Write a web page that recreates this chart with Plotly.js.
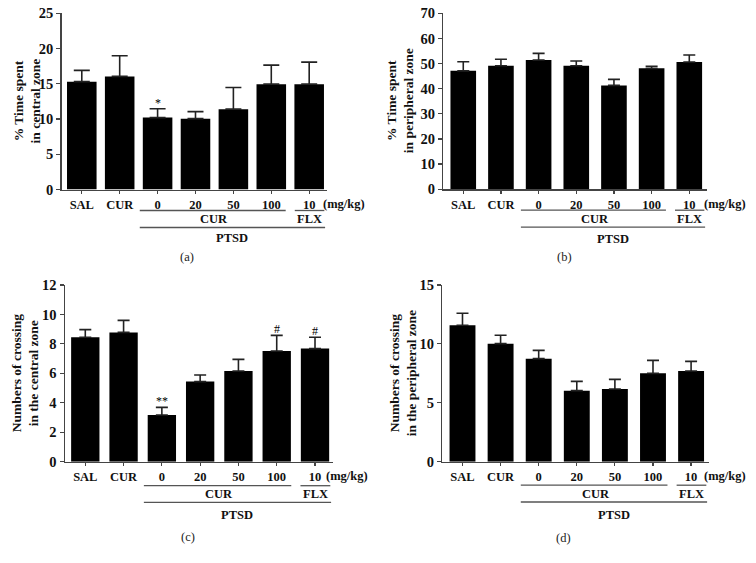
<!DOCTYPE html>
<html>
<head>
<meta charset="utf-8">
<script src="https://cdn.plot.ly/plotly-3.0.1.min.js"></script>
<style>html,body{margin:0;padding:0;background:#fff;}#chart{width:756px;height:563px;}</style>
</head>
<body>
<div id="chart"></div>
<script>
// ---- data ----
const categories = ['SAL', 'CUR', '0', '20', '50', '100', '10'];
const timeCentral = [15.3, 16.05, 10.2, 10.05, 11.4, 14.95, 14.95];
const timeCentralErr = [1.6, 2.92, 1.25, 1.0, 3.08, 2.7, 3.12];
const timePeripheral = [47.1, 49.1, 51.4, 49.1, 41.3, 48.1, 50.6];
const timePeripheralErr = [3.6, 2.6, 2.65, 1.9, 2.4, 0.8, 2.8];
const crossCentral = [8.45, 8.78, 3.17, 5.44, 6.16, 7.52, 7.68];
const crossCentralErr = [0.52, 0.82, 0.52, 0.45, 0.79, 1.06, 0.77];
const crossPeripheral = [11.58, 10.02, 8.75, 6.03, 6.17, 7.5, 7.7];
const crossPeripheralErr = [1.02, 0.71, 0.7, 0.79, 0.82, 1.1, 0.82];
const sigA = ['', '', '*', '', '', '', ''];
const sigC = ['', '', '**', '', '', '#', '#'];
const yTitles = ['% Time spent<br>in central zone', '% Time spent<br>in peripheral zone',
                 'Numbers of crossing<br>in the central zone', 'Numbers of crossing<br>in the peripheral zone'];
const panelLabels = ['(a)', '(b)', '(c)', '(d)'];
const yMax = [25, 70, 12, 15];
const yStep = [5, 10, 2, 5];

// ---- layout helpers ----
const W = 756, H = 563;
const FONT = 'Liberation Serif, Times New Roman, serif';
const px = v => v / W;
const py = v => 1 - v / H;

// panel pixel geometry: [left, right, top, bottom]
const geo = [
  [61.7, 327, 13.3, 189.5],
  [443.3, 707, 13.3, 189.2],
  [65, 333, 285, 461.7],
  [442.3, 709, 285, 461.7]
];
const barWidths = [0.78, 0.68, 0.74, 0.68];
const capWidths = [8, 6, 6, 6];
const titleX = [27, 400, 25, 403];
// offsets below axis: [groupLine, groupText, ptsdLine, ptsdText, panelLabel]
const offs = [
  [21, 29.5, 38, 49, 67],
  [21, 29.5, 38, 50, 68],
  [24, 32.5, 40.6, 53, 75],
  [23.5, 32.5, 40.3, 53, 76]
];
const labelX = [187, 564, 188, 563];
const mgX = [344, 725, 347, 725];

const series = [timeCentral, timePeripheral, crossCentral, crossPeripheral];
const errs = [timeCentralErr, timePeripheralErr, crossCentralErr, crossPeripheralErr];
const sigs = [sigA, null, sigC, null];

const data = [];
const layout = {
  width: W, height: H,
  margin: {l: 0, r: 0, t: 0, b: 0},
  paper_bgcolor: '#fff', plot_bgcolor: '#fff',
  showlegend: false,
  font: {family: FONT, color: '#111'},
  annotations: [], shapes: []
};

for (let i = 0; i < 4; i++) {
  const s = i === 0 ? '' : String(i + 1);
  const [L, R, T, B] = geo[i];
  data.push({
    type: 'bar', x: categories, y: series[i],
    xaxis: 'x' + s, yaxis: 'y' + s,
    width: barWidths[i],
    marker: {color: '#000', line: {width: 0}},
    error_y: {type: 'data', symmetric: false, array: errs[i],
              arrayminus: errs[i].map(() => 0), color: '#222', thickness: 1.6, width: capWidths[i]},
    hoverinfo: 'none'
  });
  layout['xaxis' + s] = {
    domain: [px(L), px(R)], anchor: 'y' + s, type: 'category',
    range: [-0.53, 6.47],
    showline: true, linecolor: '#444', linewidth: 1.5,
    ticks: 'outside', ticklen: 3, tickcolor: '#444', tickwidth: 1.2,
    showgrid: false, zeroline: false,
    tickfont: {family: FONT, size: 12.5, weight: 'bold', color: '#111'}
  };
  layout['yaxis' + s] = {
    domain: [py(B), py(T)], anchor: 'x' + s,
    range: [0, yMax[i]], dtick: yStep[i], tick0: 0,
    showline: true, linecolor: '#444', linewidth: 1.5,
    ticks: 'outside', ticklen: 4, tickcolor: '#444', tickwidth: 1.2,
    showgrid: false, zeroline: false,
    tickfont: {family: FONT, size: 14.5, weight: 'bold', color: '#111'}
  };
  const xr = 'x' + s;
  const o = offs[i];
  // y title
  layout.annotations.push({
    text: yTitles[i], xref: 'paper', yref: 'paper',
    x: px(titleX[i]), y: py((T + B) / 2), textangle: -90,
    showarrow: false, xanchor: 'center', yanchor: 'middle',
    font: {family: FONT, size: 13.5, weight: 'bold', color: '#111'}
  });
  // group lines
  const lineStyle = {color: '#555', width: 1.3};
  layout.shapes.push({type: 'line', xref: xr, yref: 'paper', x0: 1.53, x1: 5.38, y0: py(B + o[0]), y1: py(B + o[0]), line: lineStyle});
  layout.shapes.push({type: 'line', xref: xr, yref: 'paper', x0: 5.62, x1: 6.4, y0: py(B + o[0]), y1: py(B + o[0]), line: lineStyle});
  layout.shapes.push({type: 'line', xref: xr, yref: 'paper', x0: 1.53, x1: 6.42, y0: py(B + o[2]), y1: py(B + o[2]), line: lineStyle});
  const gfont = {family: FONT, size: 12.5, weight: 'bold', color: '#111'};
  const common = {showarrow: false, xanchor: 'center', yanchor: 'middle', yref: 'paper'};
  layout.annotations.push(Object.assign({text: 'CUR', xref: xr, x: 3.5, y: py(B + o[1]), font: gfont}, common));
  layout.annotations.push(Object.assign({text: 'FLX', xref: xr, x: 6.0, y: py(B + o[1]), font: gfont}, common));
  layout.annotations.push(Object.assign({text: 'PTSD', xref: xr, x: 3.97, y: py(B + o[3]), font: gfont}, common));
  layout.annotations.push(Object.assign({text: '(mg/kg)', xref: 'paper', x: px(mgX[i]), y: py(B + 14.5), font: gfont}, common));
  layout.annotations.push(Object.assign({text: panelLabels[i], xref: 'paper', x: px(labelX[i]), y: py(B + o[4]),
    font: {family: FONT, size: 12.5, color: '#222'}}, common));
  // significance marks
  if (sigs[i]) {
    sigs[i].forEach((t, k) => {
      if (!t) return;
      layout.annotations.push({text: t, xref: xr, yref: 'y' + s, x: k, y: series[i][k] + errs[i][k],
        showarrow: false, xanchor: 'center', yanchor: 'bottom', yshift: -3,
        font: {family: FONT, size: 12, color: '#000'}});
    });
  }
}

Plotly.newPlot('chart', data, layout, {staticPlot: true, displayModeBar: false});
</script>
</body>
</html>
